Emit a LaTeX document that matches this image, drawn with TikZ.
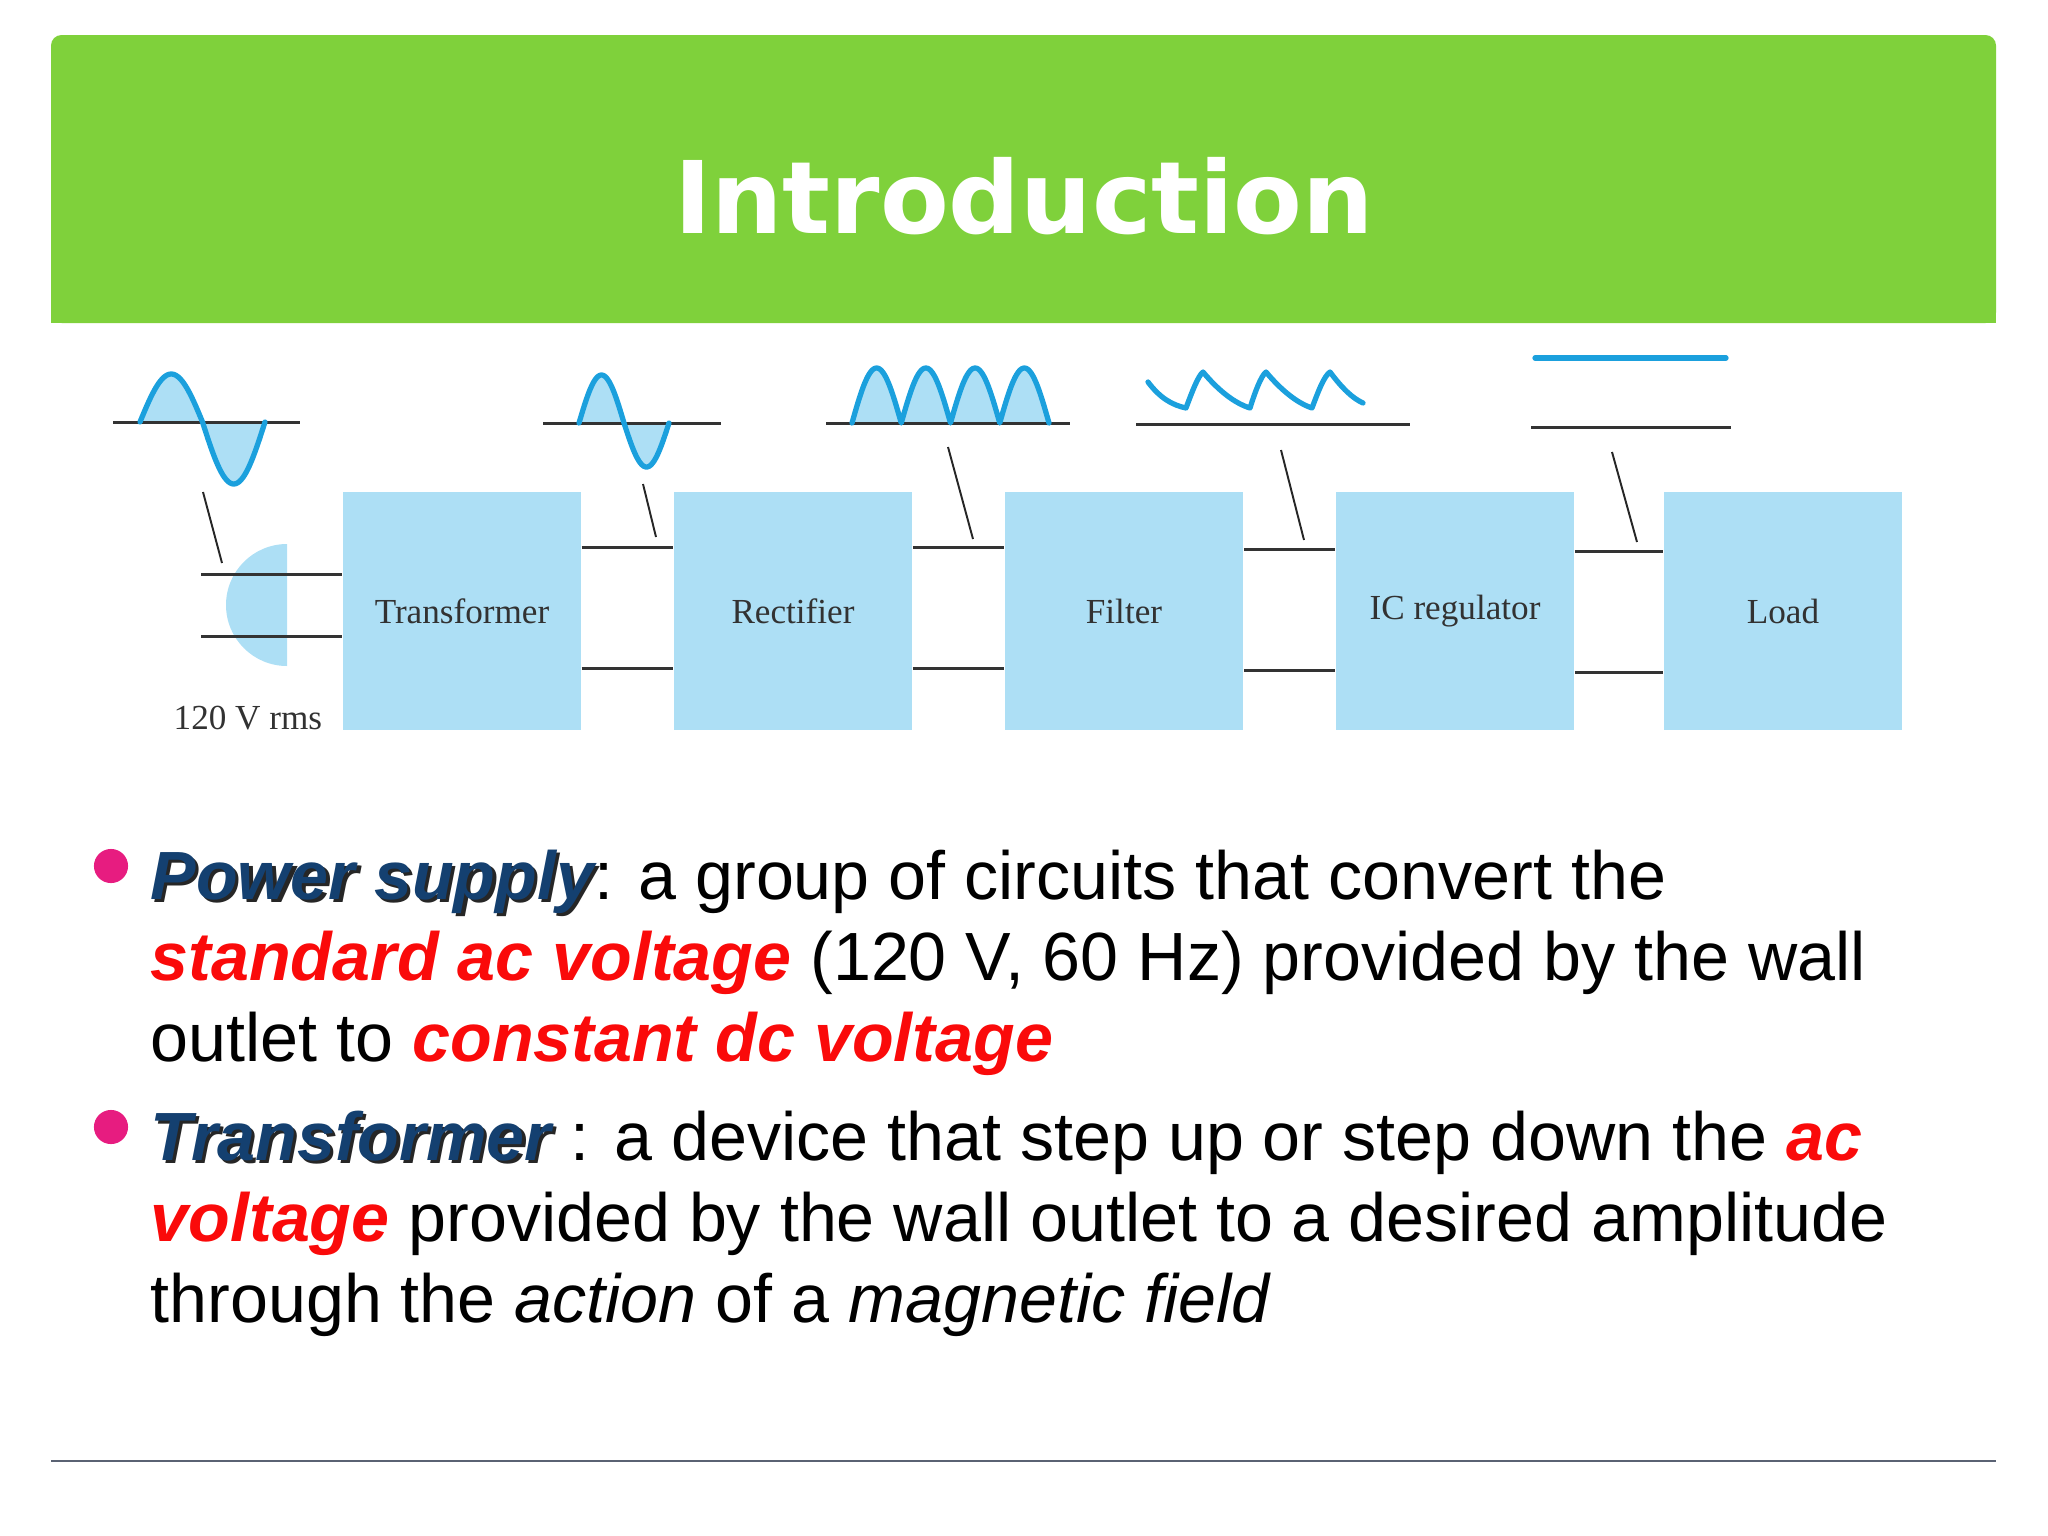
\documentclass[tikz,border=0pt]{standalone}
\usepackage{fontspec}
\setmainfont{Liberation Sans}
\newfontfamily\diagfont{Liberation Serif}
\newfontfamily\titlefont{DejaVu Sans}
\usepackage{tikz}

\definecolor{hdrgreen}{RGB}{127,209,59}
\definecolor{blkblue}{RGB}{173,223,245}
\definecolor{waveline}{RGB}{27,160,221}
\definecolor{labelgray}{RGB}{50,50,50}
\definecolor{keyred}{RGB}{250,10,10}
\definecolor{keyblue}{RGB}{20,64,112}
\definecolor{dotpink}{RGB}{231,28,128}
\definecolor{rulegray}{RGB}{90,98,115}

\newcommand{\shadowtxt}[1]{\rlap{\kern0.9pt\raisebox{-0.9pt}{\color{black!85}\bfseries\itshape #1}}{\color{keyblue}\bfseries\itshape #1}}
\newcommand{\keyword}[1]{{\color{keyred}\bfseries\itshape #1}}

\tikzset{
  blk/.style={fill=blkblue, minimum width=67.7pt, minimum height=67.7pt, inner sep=0pt,
    font=\diagfont\fontsize{10}{12}\selectfont, text=labelgray},
  wire/.style={draw=black!80, line width=0.85pt},
  tick/.style={draw=black!85, line width=0.55pt},
  wave/.style={draw=waveline, line width=1.5pt, line join=round, line cap=round},
  txt/.style={anchor=base west, inner sep=0pt, font=\fontsize{19.4}{23}\selectfont},
  dot/.style={circle, fill=dotpink, minimum size=9.7pt, inner sep=0pt}
}

\begin{document}
\begin{tikzpicture}[x=0.01cm, y=-0.01cm]
    \useasboundingbox (0,0) rectangle (2048,1536);
    % header
    \fill[hdrgreen, rounded corners=3pt] (51,35) rectangle (1996,323);
    \fill[hdrgreen] (51,100) rectangle (1996,323);
    \node[anchor=base, inner sep=0pt, text=white, font=\titlefont\bfseries\fontsize{28.5}{30}\selectfont] (title) at (1024,233) {Introduction};

    % blocks
    \node[blk] (tr) at (462,611) {Transformer};
    \node[blk] (rect) at (793,611) {Rectifier};
    \node[blk] (filt) at (1124,611) {Filter};
    \node[blk] (reg) at (1455,611) {IC regulator};
    \node[blk] (load) at (1783,611) {Load};

    % wall outlet
    \fill[blkblue] (287,544) arc[start angle=270, end angle=90, radius=61] -- cycle;
    \coordinate (in1) at (201,574);
    \coordinate (in2) at (201,636);
    \draw[wire] (in1) -- (in1 -| tr.west);
    \draw[wire] (in2) -- (in2 -| tr.west);
    \node[anchor=base west, inner sep=0pt, font=\diagfont\fontsize{10}{12}\selectfont, text=labelgray] (rms) at (173,729) {120 V rms};

    % wires between blocks
    \draw[wire] (tr.east |- 0,547) -- (rect.west |- 0,547);
    \draw[wire] (tr.east |- 0,668) -- (rect.west |- 0,668);
    \draw[wire] (rect.east |- 0,547) -- (filt.west |- 0,547);
    \draw[wire] (rect.east |- 0,668) -- (filt.west |- 0,668);
    \draw[wire] (filt.east |- 0,549) -- (reg.west |- 0,549);
    \draw[wire] (filt.east |- 0,670) -- (reg.west |- 0,670);
    \draw[wire] (reg.east |- 0,551) -- (load.west |- 0,551);
    \draw[wire] (reg.east |- 0,672) -- (load.west |- 0,672);

    % waveforms
    \fill[blkblue] plot[domain=0:360, samples=73] ({140+\x/360*125},{422-(sin(\x)>0?48:62)*sin(\x)}) -- cycle;
    \draw[wire] (113,422) -- (300,422);
    \draw[wave] plot[domain=0:360, samples=73] ({140+\x/360*125},{422-(sin(\x)>0?48:62)*sin(\x)});

    \fill[blkblue] plot[domain=0:360, samples=73] ({579+\x/360*90},{423-(sin(\x)>0?48:44)*sin(\x)}) -- cycle;
    \draw[wire] (543,423) -- (721,423);
    \draw[wave] plot[domain=0:360, samples=73] ({579+\x/360*90},{423-(sin(\x)>0?48:44)*sin(\x)});

    \fill[blkblue] plot[domain=0:720, samples=161] ({852+\x/720*197},{423-55*abs(sin(\x))}) -- cycle;
    \draw[wire] (826,423) -- (1070,423);
    \draw[wave] plot[domain=0:720, samples=161] ({852+\x/720*197},{423-55*abs(sin(\x))});

    \draw[wire] (1136,424) -- (1410,424);
    \draw[wave] (1148,382) .. controls (1160,398) and (1172,405) .. (1186,408)
        .. controls (1192,392) and (1198,376) .. (1203,372)
        .. controls (1218,390) and (1234,403) .. (1250,408)
        .. controls (1255,392) and (1261,376) .. (1266,372)
        .. controls (1281,390) and (1297,403) .. (1312,408)
        .. controls (1318,392) and (1324,376) .. (1330,372)
        .. controls (1342,388) and (1352,398) .. (1363,403);

    \draw[wave] (1535,358) -- (1726,358);
    \draw[wire] (1531,427) -- (1731,427);

    % pointers
    \draw[tick] (203,492) -- (222,563);
    \draw[tick] (643,484) -- (656,537);
    \draw[tick] (948,447) -- (973,539);
    \draw[tick] (1281,450) -- (1304,540);
    \draw[tick] (1612,452) -- (1637,542);

    % bullets
    \node[dot] (d1) at (111,866) {};
    \node[txt] (b1l1) at (150,899) {\shadowtxt{Power supply}: a group of circuits that convert the};
    \node[txt] (b1l2) at (150,980) {\keyword{standard ac voltage} (120 V, 60 Hz) provided by the wall};
    \node[txt] (b1l3) at (150,1061) {outlet to \keyword{constant dc voltage}};
    \node[dot] (d2) at (111,1127) {};
    \node[txt] (b2l1) at (150,1160) {\shadowtxt{Transformer} : a device that step up or step down the \keyword{ac}};
    \node[txt] (b2l2) at (150,1241) {\keyword{voltage} provided by the wall outlet to a desired amplitude};
    \node[txt] (b2l3) at (150,1322) {through the \textit{action} of a \textit{magnetic field}};

    % footer rule
    \draw[rulegray, line width=0.6pt] (51,1461) -- (1996,1461);
\end{tikzpicture}
\end{document}
